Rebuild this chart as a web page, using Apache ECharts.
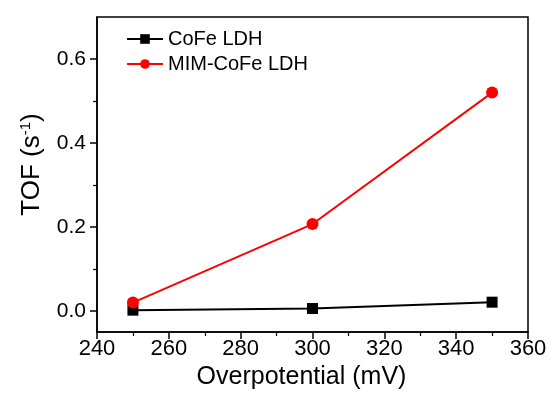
<!DOCTYPE html>
<html>
<head>
<meta charset="utf-8">
<script src="https://cdn.jsdelivr.net/npm/echarts@6/dist/echarts.min.js"></script>
<style>
html,body{margin:0;padding:0;background:#fff;}
#chart{width:550px;height:395px;}
</style>
</head>
<body>
<div id="chart"></div>
<script>
// Overpotential (mV) and turnover frequency values
const overpotential = [250, 300, 350];
const tofCoFe = [0.002, 0.006, 0.021];
const tofMIM = [0.020, 0.207, 0.520];
const seriesNames = ['CoFe LDH', 'MIM-CoFe LDH'];
const yMajorTicks = [0, 0.2, 0.4, 0.6];
const yMinorTicks = [0.1, 0.3, 0.5];

const font = '"Liberation Sans", Arial, Helvetica, sans-serif';
const chart = echarts.init(document.getElementById('chart'));

const pairs = arr => overpotential.map((x, i) => [x, arr[i]]);
const yMin = -0.05, yMax = 0.7;

chart.setOption({
  animation: false,
  backgroundColor: '#fff',
  grid: {
    left: 97, right: 22, top: 17, bottom: 63,
    show: true, borderColor: '#000', borderWidth: 1.5, backgroundColor: 'transparent'
  },
  legend: {
    left: 121, top: 24, orient: 'vertical', itemGap: 5,
    itemWidth: 36, itemHeight: 12,
    textStyle: { fontFamily: font, fontSize: 20, color: '#000', padding: [0, 0, 0, 0] },
    data: seriesNames
  },
  xAxis: {
    type: 'value', min: 240, max: 360, interval: 20,
    axisLine: { onZero: false, lineStyle: { color: '#000', width: 1.5 } },
    axisTick: { inside: false, length: 7, lineStyle: { color: '#000', width: 1.5 } },
    minorTick: { show: true, splitNumber: 2, length: 4, lineStyle: { color: '#000', width: 1.2 } },
    splitLine: { show: false },
    axisLabel: { fontFamily: font, fontSize: 22, color: '#000', margin: 6 },
    name: 'Overpotential (mV)', nameLocation: 'middle', nameGap: 30,
    nameTextStyle: { fontFamily: font, fontSize: 25, color: '#000', padding: [0, 22, 0, 0] }
  },
  yAxis: [
    {
      type: 'value', min: yMin, max: yMax,
      axisLine: { lineStyle: { color: '#000', width: 1.5 } },
      axisTick: { inside: false, length: 7, customValues: yMajorTicks, lineStyle: { color: '#000', width: 1.5 } },
      splitLine: { show: false },
      axisLabel: {
        fontFamily: font, fontSize: 21, color: '#000', margin: 11,
        customValues: yMajorTicks,
        formatter: v => v.toFixed(1)
      },
      name: 'TOF (s{sup|-1})', nameLocation: 'middle', nameGap: 52, nameRotate: 90,
      nameTextStyle: {
        fontFamily: font, fontSize: 26, color: '#000', padding: [0, 0, 0, 20],
        rich: { sup: { fontFamily: font, fontSize: 15, color: '#000', verticalAlign: 'top', padding: [0, 0, 12, 0] } }
      }
    },
    {
      // minor ticks between the labelled values
      type: 'value', min: yMin, max: yMax, position: 'left',
      axisLine: { show: false },
      axisTick: { inside: false, length: 4, customValues: yMinorTicks, lineStyle: { color: '#000', width: 1.2 } },
      axisLabel: { show: false },
      splitLine: { show: false }
    }
  ],
  series: [
    {
      name: seriesNames[0], type: 'line', data: pairs(tofCoFe),
      symbol: 'rect', symbolSize: 11,
      lineStyle: { color: '#000', width: 2 }, itemStyle: { color: '#000' }
    },
    {
      name: seriesNames[1], type: 'line', data: pairs(tofMIM),
      symbol: 'circle', symbolSize: 12,
      lineStyle: { color: '#ff0000', width: 2 }, itemStyle: { color: '#ff0000' }
    }
  ]
});
</script>
</body>
</html>
